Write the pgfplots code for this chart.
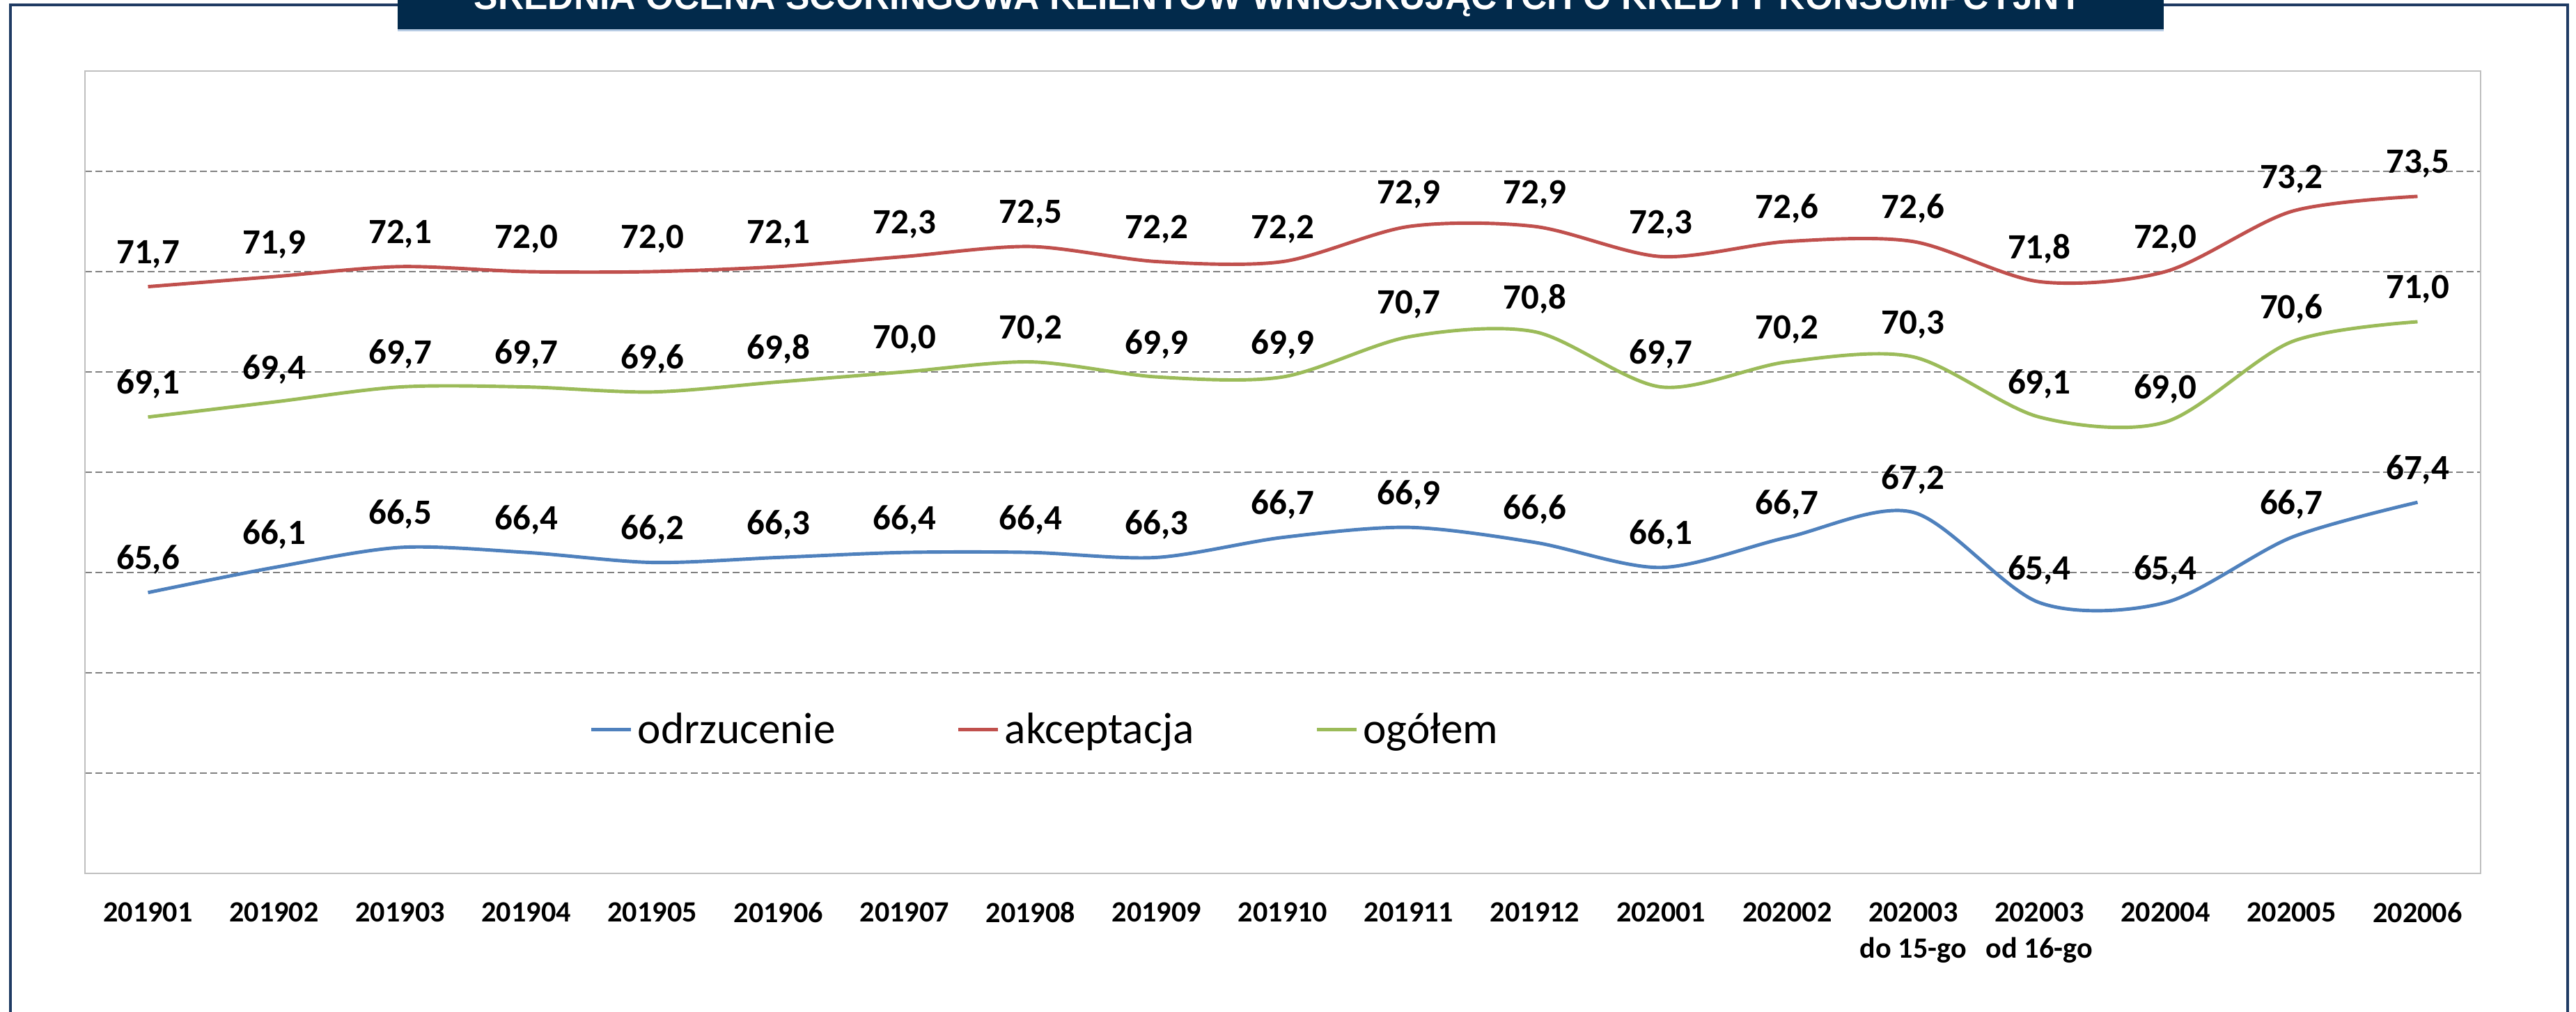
\documentclass[border=0pt]{standalone}
\usepackage{pgfplots}
\pgfplotsset{compat=1.18}
\usepackage{pgfplotstable}
\usepackage{fontspec}
\setmainfont{Carlito}
\newfontfamily\titlefont{Liberation Sans}
\definecolor{cblue}{HTML}{4F81BD}
\definecolor{cred}{HTML}{C0504D}
\definecolor{cgreen}{HTML}{9BBB59}
\definecolor{navy}{HTML}{022A4B}
\definecolor{framec}{HTML}{1F3B63}
\definecolor{lightline}{HTML}{B8CCE4}

\pgfplotstableread{
x  odrz akc  ogol
0  65.6 71.7 69.1
1  66.1 71.9 69.4
2  66.5 72.1 69.7
3  66.4 72.0 69.7
4  66.2 72.0 69.6
5  66.3 72.1 69.8
6  66.4 72.3 70.0
7  66.4 72.5 70.2
8  66.3 72.2 69.9
9  66.7 72.2 69.9
10 66.9 72.9 70.7
11 66.6 72.9 70.8
12 66.1 72.3 69.7
13 66.7 72.6 70.2
14 67.2 72.6 70.3
15 65.4 71.8 69.1
16 65.4 72.0 69.0
17 66.7 73.2 70.6
18 67.4 73.5 71.0
}\datatable

\begin{document}
\begin{tikzpicture}
\useasboundingbox (0,0) rectangle (369.9mm,145.3mm);
% outer frame
\draw[framec, line width=0.35mm] (1.5mm,-5mm) -- (1.5mm,144.6mm) -- (368.7mm,144.6mm) -- (368.7mm,-5mm);
% title box
\fill[navy] (57.1mm,141.1mm) rectangle (310.7mm,152mm);
\draw[lightline, line width=0.3mm] (57.1mm,140.95mm) -- (310.7mm,140.95mm);
\node[anchor=base, text=white, inner sep=0pt, font=\titlefont\fontsize{14.7}{18}\selectfont\bfseries] at (183.6mm,143.9mm) {ŚREDNIA OCENA SCORINGOWA KLIENTÓW WNIOSKUJĄCYCH O KREDYT KONSUMPCYJNY};

\begin{axis}[
  at={(12.2mm,19.9mm)}, anchor=south west,
  scale only axis, width=344mm, height=115.2mm,
  xmin=-0.5, xmax=18.5, ymin=60, ymax=76,
  ytick={62,64,...,74}, yticklabels={},
  ymajorgrids,
  major grid style={draw=gray, line width=0.45pt, dash pattern=on 1mm off 0.5mm},
  axis line style={draw=black!25, line width=0.6pt},
  tick style={draw=none},
  xtick={0,...,18},
  xticklabels={201901,201902,201903,201904,201905,201906,201907,201908,201909,201910,201911,201912,202001,202002,{202003\\do 15-go},{202003\\od 16-go},202004,202005,202006},
  xticklabel style={font=\fontsize{12}{15}\selectfont\bfseries, align=center, yshift=-2.9mm},
  /pgf/number format/.cd, fixed, fixed zerofill, precision=1, use comma, assume math mode=true,
  /pgfplots/.cd,
  nodes near coords,
  every node near coord/.append style={anchor=base, yshift=3.3mm, text=black, font=\fontsize{14.5}{17}\selectfont\bfseries},
  legend style={at={(0.2105,0.179)}, anchor=west, draw=none, fill=none, legend columns=3,
    font=\fontsize{18}{21}\selectfont, inner sep=0pt,
    /tikz/every even column/.append style={column sep=16.7mm}},
  legend image code/.code={\draw[#1, line width=1.4pt] (0mm,0mm) -- (5.7mm,0mm);},
]
\addplot[cblue, line width=1.4pt, smooth, tension=0.5, mark=none] table[x=x, y=odrz] {\datatable};
\addlegendentry{odrzucenie}
\addplot[cred, line width=1.4pt, smooth, tension=0.5, mark=none] table[x=x, y=akc] {\datatable};
\addlegendentry{akceptacja}
\addplot[cgreen, line width=1.4pt, smooth, tension=0.5, mark=none] table[x=x, y=ogol] {\datatable};
\addlegendentry{ogółem}
\end{axis}
\end{tikzpicture}
\end{document}
